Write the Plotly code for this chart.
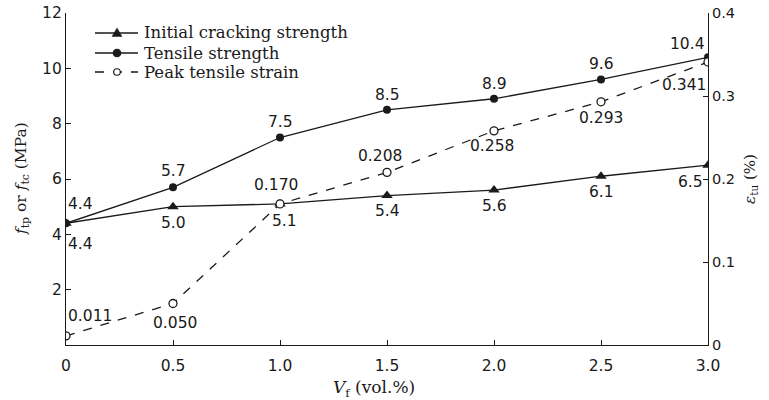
import plotly.graph_objects as go

# Fibre volume fraction (vol.%)
vf = [0, 0.5, 1.0, 1.5, 2.0, 2.5, 3.0]
x_ticklabels = ["0", "0.5", "1.0", "1.5", "2.0", "2.5", "3.0"]

# Strengths (MPa) and peak tensile strain (%)
initial_cracking = [4.4, 5.0, 5.1, 5.4, 5.6, 6.1, 6.5]
tensile_strength = [4.4, 5.7, 7.5, 8.5, 8.9, 9.6, 10.4]
peak_strain = [0.011, 0.050, 0.170, 0.208, 0.258, 0.293, 0.341]

series_names = ["Initial cracking strength", "Tensile strength", "Peak tensile strain"]

# Label offsets in pixels (dx, dy) for each series
crack_offsets = [(14, -21), (0, -16), (4, -17), (0, -15), (0, -16), (0, -16), (-18, -17)]
tensile_offsets = [(14, 19), (0, 16), (0, 16), (0, 15), (0, 15), (0, 15), (-21, 13)]
strain_offsets = [(24, 20), (2, -19), (-4, 19), (-7, 16), (-2, -15), (0, -16), (-24, -23)]

INK = "#1a1a1a"
SANS = "DejaVu Sans"
SERIF = "DejaVu Serif"

# Plot-area geometry (pixels) used for placing the key and titles in paper coordinates
W, H = 769, 400
ML, MR, MT, MB = 66, 61, 13, 55
PW, PH = W - ML - MR, H - MT - MB


def px_to_paper(px, py):
    return (px - ML) / PW, (H - MB - py) / PH


fig = go.Figure()

fig.add_trace(go.Scatter(
    x=vf, y=peak_strain, yaxis="y2", mode="lines+markers",
    name=series_names[2], showlegend=False,
    line=dict(color=INK, width=1.3, dash="dash"),
    marker=dict(symbol="circle", size=8, color="white",
                line=dict(color=INK, width=1.3)),
))
fig.add_trace(go.Scatter(
    x=vf, y=tensile_strength, mode="lines+markers",
    name=series_names[1], showlegend=False,
    line=dict(color=INK, width=1.3),
    marker=dict(symbol="circle", size=8, color=INK),
))
fig.add_trace(go.Scatter(
    x=vf, y=initial_cracking, mode="lines+markers",
    name=series_names[0], showlegend=False,
    line=dict(color=INK, width=1.3),
    marker=dict(symbol="triangle-up", size=10, color=INK),
))

annotations = []


def add_labels(values, offsets, yref, fmt):
    for xv, yv, (dx, dy) in zip(vf, values, offsets):
        annotations.append(dict(
            x=xv, y=yv, xref="x", yref=yref, text=fmt.format(yv),
            showarrow=False, xshift=dx, yshift=dy,
            font=dict(family=SANS, size=15.5, color=INK),
        ))


add_labels(initial_cracking, crack_offsets, "y", "{:.1f}")
add_labels(tensile_strength, tensile_offsets, "y", "{:.1f}")
add_labels(peak_strain, strain_offsets, "y2", "{:.3f}")

# Key in the upper-left corner: line sample, marker and name per series
shapes = []
key_rows = [33, 53, 72]
key_styles = [("solid", "triangle"), ("solid", "filled"), ("dash", "open")]
line_x0, line_x1, mark_x, text_x = 95, 138, 117, 142
for name, row_y, (dash, mark) in zip(series_names, key_rows, key_styles):
    xa, ya = px_to_paper(line_x0, row_y)
    xb, _ = px_to_paper(line_x1, row_y)
    shapes.append(dict(type="line", xref="paper", yref="paper",
                       x0=xa, x1=xb, y0=ya, y1=ya,
                       line=dict(color=INK, width=1.3, dash=dash)))
    xm, ym = px_to_paper(mark_x, row_y)
    if mark == "triangle":
        shapes.append(dict(type="path", xref="paper", yref="paper",
                           xsizemode="pixel", ysizemode="pixel",
                           xanchor=xm, yanchor=ym,
                           path="M-5,-3.5 L5,-3.5 L0,5 Z",
                           fillcolor=INK, line=dict(color=INK, width=0.5)))
    else:
        fill = INK if mark == "filled" else "white"
        r = 3.8 if mark == "filled" else 3.3
        shapes.append(dict(type="circle", xref="paper", yref="paper",
                           xsizemode="pixel", ysizemode="pixel",
                           xanchor=xm, yanchor=ym,
                           x0=-r, x1=r, y0=-r, y1=r,
                           fillcolor=fill, line=dict(color=INK, width=1.1)))
    xt, yt = px_to_paper(text_x, row_y)
    annotations.append(dict(x=xt, y=yt, xref="paper", yref="paper",
                            xanchor="left", yanchor="middle", showarrow=False,
                            text=name,
                            font=dict(family=SERIF, size=16.5, color=INK)))

# Left axis title
tx, ty = px_to_paper(22, 179)
annotations.append(dict(x=tx, y=ty, xref="paper", yref="paper",
                        xanchor="center", yanchor="middle", showarrow=False,
                        textangle=-90,
                        text="<i>f</i><sub>tp</sub> or <i>f</i><sub>tc</sub> (MPa)",
                        font=dict(family=SERIF, size=15.5, color=INK)))

# Bottom axis title
bx, by = px_to_paper(374, 388)
annotations.append(dict(x=bx, y=by, xref="paper", yref="paper",
                        xanchor="center", yanchor="middle", showarrow=False,
                        text="<i>V</i><sub>f</sub> (vol.%)",
                        font=dict(family=SERIF, size=17, color=INK)))

fig.update_layout(
    width=W, height=H,
    margin=dict(l=ML, r=MR, t=MT, b=MB, autoexpand=False),
    paper_bgcolor="white", plot_bgcolor="white",
    showlegend=False,
    annotations=annotations,
    shapes=shapes,
    xaxis=dict(
        range=[0, 3.0], tickvals=vf, ticktext=x_ticklabels,
        showline=True, linecolor=INK, linewidth=1.2, mirror=False,
        ticks="inside", ticklen=5, tickcolor=INK, showgrid=False, zeroline=False,
        tickfont=dict(family=SANS, size=15.5, color=INK),
        ticklabelstandoff=6, automargin=False,
    ),
    yaxis=dict(
        range=[0, 12], tickvals=[2, 4, 6, 8, 10, 12],
        showline=True, linecolor=INK, linewidth=1.2,
        ticks="inside", ticklen=5, tickcolor=INK, showgrid=False, zeroline=False,
        tickfont=dict(family=SANS, size=15.5, color=INK), automargin=False,
    ),
    yaxis2=dict(
        range=[0, 0.4], tickvals=[0, 0.1, 0.2, 0.3, 0.4],
        ticktext=["0", "0.1", "0.2", "0.3", "0.4"],
        overlaying="y", side="right",
        showline=True, linecolor=INK, linewidth=1.2,
        ticks="inside", ticklen=5, tickcolor=INK, showgrid=False, zeroline=False,
        tickfont=dict(family=SANS, size=14.5, color=INK), automargin=False,
        title=dict(text="<i>ε</i><sub>tu</sub> (%)",
                   font=dict(family=SERIF, size=15, color=INK), standoff=10),
    ),
)

fig.write_html("out.html")
